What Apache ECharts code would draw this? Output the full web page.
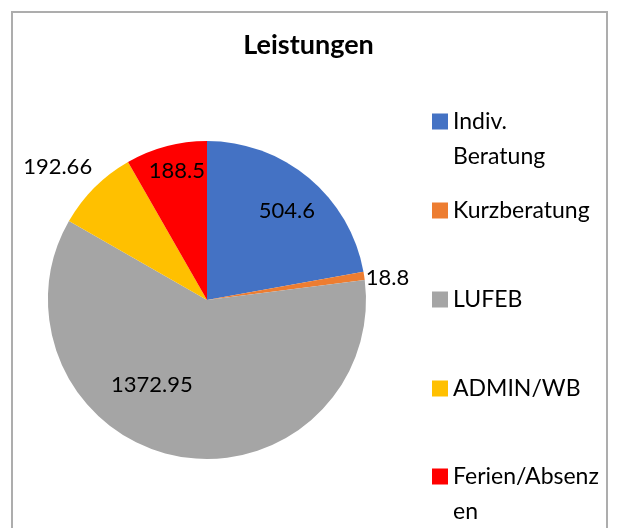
<!DOCTYPE html>
<html lang="de">
<head>
    <meta charset="UTF-8">
    <title>Leistungen</title>
    <script src="https://cdn.jsdelivr.net/npm/echarts@6.0.0/dist/echarts.min.js"></script>
    <style>
        html, body { margin: 0; padding: 0; background: #fff; }
    </style>
</head>
<body>
    <div id="myChart" style="width: 617px; height: 528px;"></div>
    <script>
        // Daten
        const categories = ['Indiv. Beratung', 'Kurzberatung', 'LUFEB', 'ADMIN/WB', 'Ferien/Absenzen'];
        const values = [504.6, 18.8, 1372.95, 192.66, 188.5];
        // Legendentext wie im Original umbrochen
        const legendText = ['Indiv.\nBeratung', 'Kurzberatung', 'LUFEB', 'ADMIN/WB', 'Ferien/Absenz\nen'];

        const colors = ['#4472C4', '#ED7D31', '#A5A5A5', '#FFC000', '#FF0000'];
        // Verschiebung der Beschriftungen (Excel "beste Anpassung")
        const labelOffsets = [[27, -26], [99, -10], [-39, 4], [-91, -75], [-9, -49]];
        const legendTops = [104, 193, 282, 371, 459];

        const myChart = echarts.init(document.getElementById('myChart'));

        // bei zweizeiligen Einträgen sitzt das Symbol auf der ersten Zeile
        const legends = categories.map((name, i) => {
            const twoLines = legendText[i].indexOf('\n') >= 0;
            return {
                data: [name],
                orient: 'vertical',
                left: 432,
                top: legendTops[i],
                padding: 0,
                itemWidth: 16,
                itemHeight: twoLines ? 51 : 16,
                icon: twoLines ? 'path://M0,0H16V16H0Z M0,51L0.01,51' : 'rect',
                formatter: () => legendText[i],
                textStyle: {
                    fontFamily: 'Lato',
                    fontSize: 23,
                    color: '#000',
                    lineHeight: 35
                }
            };
        });

        const option = {
            animation: false,
            color: colors,
            title: {
                text: 'Leistungen',
                left: 'center',
                top: 27,
                textStyle: {
                    fontFamily: 'Lato',
                    fontWeight: 'bold',
                    fontSize: 27,
                    color: '#000'
                }
            },
            legend: legends,
            graphic: [{
                type: 'rect',
                shape: { x: 12, y: 12, width: 595, height: 540 },
                style: { fill: 'none', stroke: '#ADADAD', lineWidth: 2 },
                silent: true
            }],
            series: [{
                type: 'pie',
                center: [207, 300],
                radius: 159,
                startAngle: 90,
                clockwise: true,
                avoidLabelOverlap: false,
                itemStyle: { borderWidth: 0 },
                label: {
                    show: true,
                    position: 'inside',
                    formatter: (p) => String(p.value),
                    fontFamily: 'Lato',
                    fontSize: 22,
                    color: '#000'
                },
                labelLine: { show: false },
                emphasis: { disabled: true },
                data: categories.map((name, i) => ({
                    name: name,
                    value: values[i],
                    label: { offset: labelOffsets[i] }
                }))
            }]
        };
        myChart.setOption(option);
    </script>
</body>
</html>
